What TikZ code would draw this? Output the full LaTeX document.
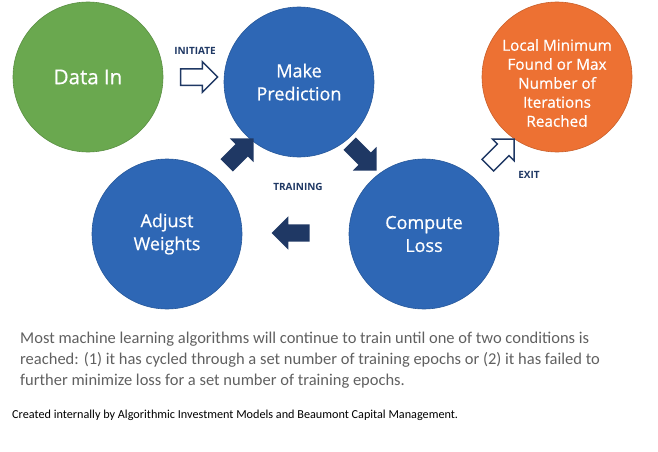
\documentclass[tikz,border=0pt]{standalone}
\usepackage{fontspec}
\setmainfont{Carlito}
\newfontfamily\opensans{Open Sans}
\newfontfamily\bubblefont[FakeBold=0.6]{Open Sans}
\usetikzlibrary{shapes.arrows,positioning}
\definecolor{datagreen}{RGB}{106,168,79}
\definecolor{stepblue}{RGB}{46,103,181}
\definecolor{exitorange}{RGB}{237,113,51}
\definecolor{arrownavy}{RGB}{31,56,100}
\definecolor{bodygray}{RGB}{96,96,96}

\begin{document}
\begin{tikzpicture}[x=1pt,y=-1pt,
    bubble/.style={circle, minimum size=150pt, inner sep=0pt, align=center, text=white,
      font=\bubblefont\fontsize{18}{23}\selectfont, draw=#1!85!black, fill=#1, line width=0.6pt},
    hollowarrow/.style={single arrow, draw=arrownavy, fill=white, line width=1.5pt,
      minimum height=37pt, inner xsep=0pt, inner ysep=7.5pt, single arrow head extend=7pt},
    solidarrow/.style={single arrow, draw=none, fill=arrownavy,
      minimum height=38pt, inner xsep=0pt, inner ysep=8.5pt, single arrow head extend=8pt},
    tag/.style={text=arrownavy, font=\opensans\bfseries\fontsize{10}{12}\selectfont}]
  \useasboundingbox (0,0) rectangle (658,452);

  % the five steps
  \node[bubble=datagreen, font=\bubblefont\fontsize{20.5}{24}\selectfont] (datain) at (88,77) {Data In};
  \node[bubble=stepblue] (predict) at (299,82) {Make\\Prediction};
  \node[bubble=exitorange] (found) at (557,77) {};
  \node[align=center, text=white, font=\bubblefont\fontsize{15.3}{19}\selectfont]
    (foundtext) at ([yshift=-6pt]found.center)
    {Local Minimum\\Found or Max\\Number of\\Iterations\\Reached};
  \node[bubble=stepblue] (adjust) at (167,234) {Adjust\\Weights};
  \node[bubble=stepblue] (loss) at (424,234) {Compute\\Loss};

  % block arrows between the steps
  \node[hollowarrow] (initarrow) at (195,77) {};
  \node[solidarrow, rotate=45] (uparrow) at (237,155) {};
  \node[solidarrow, rotate=-45] (downarrow) at (360,154) {};
  \node[solidarrow, rotate=180] (backarrow) at (295,233) {};
  \node[hollowarrow, rotate=45] (exitarrow) at (498,155) {};

  \node[tag] (initiate) at (195,51) {INITIATE};
  \node[tag] (training) at (298,187) {TRAINING};
  \node[tag] (exit) at (529,175) {EXIT};

  % caption
  \node[anchor=north west, align=left, text=bodygray, inner sep=0pt,
    font=\fontsize{16.5}{21}\selectfont] (note) at (20,332)
    {Most machine learning algorithms will continue to train until one of two conditions is\\
     reached: (1) it has cycled through a set number of training epochs or (2) it has failed to\\
     further minimize loss for a set number of training epochs.};
  \node[anchor=west, inner sep=0pt, font=\fontsize{12.2}{14}\selectfont] (credit) at (12,415)
    {Created internally by Algorithmic Investment Models and Beaumont Capital Management.};
\end{tikzpicture}
\end{document}
